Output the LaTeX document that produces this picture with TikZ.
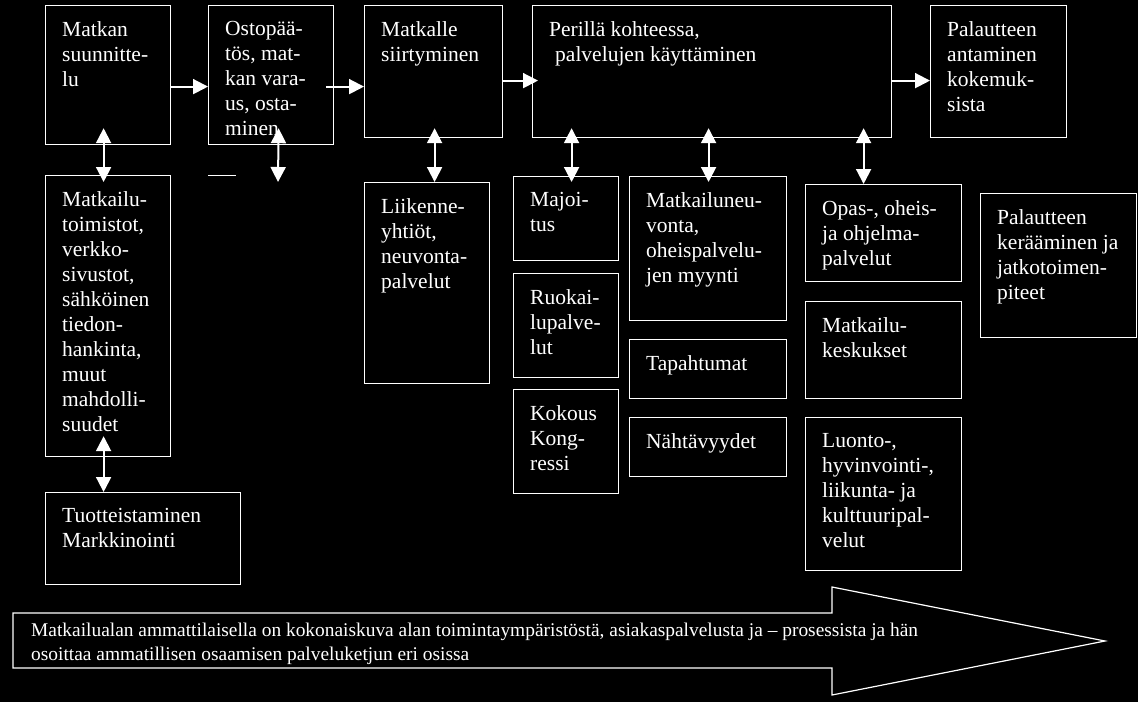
\documentclass[tikz,border=0pt]{standalone}
\usepackage{fontspec}
\setmainfont{Liberation Serif}
\usetikzlibrary{arrows.meta}

\begin{document}
\begin{tikzpicture}[
  x=1pt, y=-1pt,
  box/.style={draw=white, line width=1.2pt, anchor=north west, inner sep=0pt},
  txt/.style={anchor=north west, inner sep=0pt, align=left, text=white,
    font=\fontsize{21.5}{25}\selectfont},
  flow/.style={draw=white, line width=2pt, -{Triangle[width=15pt,length=15pt]}},
  dbl/.style={draw=white, line width=2pt,
    {Triangle[width=15pt,length=15pt]}-{Triangle[width=15pt,length=15pt]}}
]
  \path[fill=black, use as bounding box] (0,0) rectangle (1138,702);

  % boxes: name/x/y/width/height/text
  \foreach \n/\x/\y/\w/\h/\lbl in {
    suun/45/5/125/139/{Matkan\\suunnitte-\\lu},
    osto/208/5/125/139/{Ostopää-\\tös, mat-\\kan vara-\\us, osta-\\minen},
    siirto/364/5/138/132/{Matkalle\\siirtyminen},
    perilla/532/5/359/132/{Perillä kohteessa,\\\hspace{6pt}palvelujen käyttäminen},
    palaute/930/5/136/132/{Palautteen\\antaminen\\kokemuk-\\sista},
    toimistot/45/175/125/281/{Matkailu-\\toimistot,\\verkko-\\sivustot,\\sähköinen\\tiedon-\\hankinta,\\muut\\mahdolli-\\suudet},
    tuote/45/492/195/92/{Tuotteistaminen\\Markkinointi},
    liikenne/364/182/125/201/{Liikenne-\\yhtiöt,\\neuvonta-\\palvelut},
    majoitus/513/176/105/84/{Majoi-\\tus},
    ruoka/513/273/105/104/{Ruokai-\\lupalve-\\lut},
    kokous/513/389/105/104/{Kokous\\Kong-\\ressi},
    neuvonta/629/176/157/144/{Matkailuneu-\\vonta,\\oheispalvelu-\\jen myynti},
    tapahtumat/629/339/157/59/{Tapahtumat},
    nahtavyydet/629/417/157/59/{Nähtävyydet},
    opas/805/184/156/97/{Opas-, oheis-\\ja ohjelma-\\palvelut},
    keskukset/805/301/156/97/{Matkailu-\\keskukset},
    luonto/805/417/156/153/{Luonto-,\\hyvinvointi-,\\liikunta- ja\\kulttuuripal-\\velut},
    keraaminen/980/193/156/144/{Palautteen\\kerääminen ja\\jatkotoimen-\\piteet}}
  {
    \node[box, minimum width=\w pt, minimum height=\h pt] (\n) at (\x,\y) {};
    \node[txt] (\n-txt) at ([shift={(17,16)}]\n.north west) {\lbl};
  }

  % process chain
  \draw[flow] ([yshift=-11.5pt]suun.east) -- ([yshift=-11.5pt]osto.west);
  \draw[flow] ([xshift=-8pt,yshift=-11.5pt]osto.east) -- ([yshift=-15pt]siirto.west);
  \draw[flow] ([yshift=-9pt]siirto.east) -- ([xshift=6pt,yshift=-9pt]perilla.west);
  \draw[flow] ([yshift=-9pt]perilla.east) -- ([yshift=-9pt]palaute.west);

  % links to services
  \coordinate (ostovapaa) at (278,182);
  \draw[dbl] ([xshift=-4.5pt,yshift=17pt]suun.south) -- ([xshift=-4.5pt,yshift=-7pt]toimistot.north);
  \draw[dbl] ([xshift=7.5pt,yshift=17pt]osto.south) -- (ostovapaa);
  \draw[white, line width=1pt] (208,175) -- (236,175);
  \draw[dbl] ([xshift=1pt,yshift=10pt]siirto.south) -- ([xshift=7.5pt]liikenne.north);
  \draw[dbl] ([xshift=-140.5pt,yshift=10pt]perilla.south) -- ([xshift=5.5pt,yshift=-6pt]majoitus.north);
  \draw[dbl] ([xshift=-3.5pt,yshift=10pt]perilla.south) -- ([xshift=0.5pt,yshift=-6pt]neuvonta.north);
  \draw[dbl] ([xshift=151.5pt,yshift=10pt]perilla.south) -- ([xshift=-20pt]opas.north);
  \draw[dbl] ([xshift=-4.5pt,yshift=21pt]toimistot.south) -- ([xshift=-39.5pt]tuote.north);

  % big arrow
  \draw[white, line width=1.2pt] (13,613) -- (832,613) -- (832,587) -- (1105,641)
    -- (832,695) -- (832,668) -- (13,668) -- cycle;
  \node[txt, font=\fontsize{19.4}{24}\selectfont] (ammatti) at (31,623)
    {Matkailualan ammattilaisella on kokonaiskuva alan toimintaympäristöstä, asiakaspalvelusta ja – prosessista ja hän\\osoittaa ammatillisen osaamisen palveluketjun eri osissa};
\end{tikzpicture}
\end{document}
